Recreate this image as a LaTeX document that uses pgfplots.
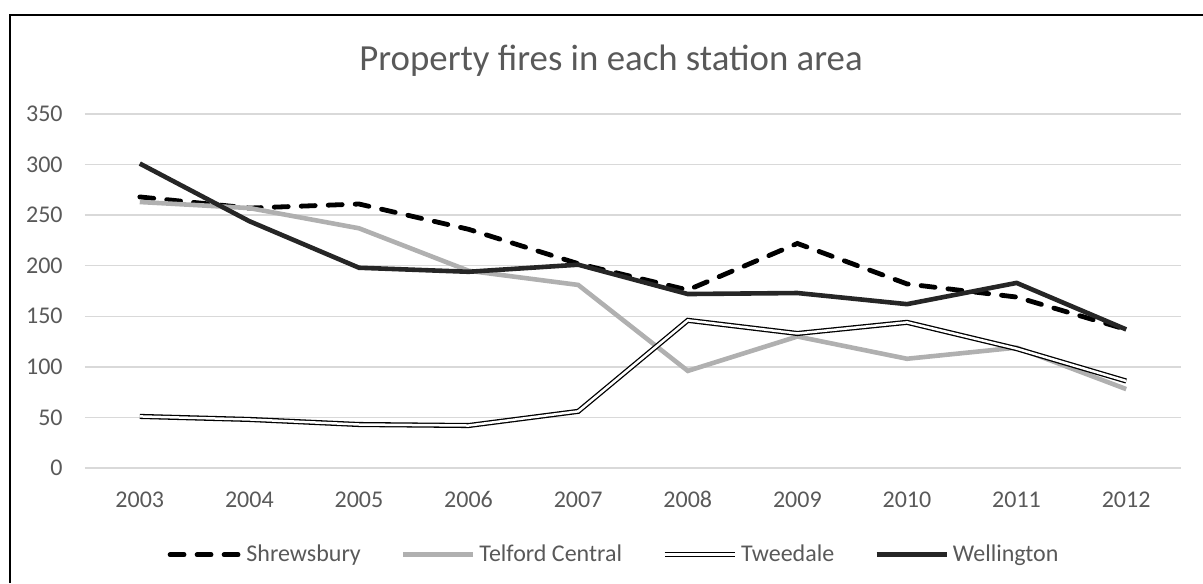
\documentclass[border=0pt]{standalone}
\usepackage{pgfplots}
\pgfplotsset{compat=1.18}
\usepackage{fontspec}
\setmainfont{Carlito}
\definecolor{txt}{HTML}{595959}
\definecolor{gridc}{HTML}{D9D9D9}
\definecolor{dark}{HTML}{262626}
\definecolor{lgray}{HTML}{B0B0B0}
\begin{document}
\begin{tikzpicture}
% 1 px of the reference = 0.5pt
\useasboundingbox (0pt,0pt) rectangle (601.5pt,291.5pt);
\draw[line width=1pt] (5pt,0pt) -- (5pt,284pt) -- (601.5pt,284pt);
\node[anchor=base, text=txt, font=\fontsize{18.4}{22}\selectfont] at (305.5pt,256pt) {Property fires in each station area};
\begin{axis}[
  at={(42.5pt,57.5pt)}, anchor=south west,
  scale only axis, width=548pt, height=177pt,
  xmin=2002.5, xmax=2012.5, ymin=0, ymax=350,
  xtick={2003,...,2012}, ytick={0,50,...,350},
  axis line style={draw=none},
  tick style={draw=none},
  xmajorgrids=false, ymajorgrids=true,
  major grid style={draw=gridc, line width=0.75pt},
  x tick label style={/pgf/number format/1000 sep={}},
  /pgf/number format/assume math mode=true,
  every tick label/.append style={font=\fontsize{12}{14}\selectfont, text=txt, inner sep=0pt},
  yticklabel style={anchor=east, xshift=-11pt},
  xticklabel style={anchor=base, yshift=-19.5pt},
  legend columns=4,
  legend style={at={(0.4836,-0.245)}, anchor=center, draw=none, fill=none,
    font=\fontsize{12}{14}\selectfont, text=txt,
    /tikz/every even column/.append style={column sep=18pt},
    nodes={inner sep=2pt}},
  legend image code/.code={\draw[#1] (0pt,0pt) -- (35pt,0pt);},
]
\addplot[black, line width=2.4pt, line cap=round, dash pattern=on 7pt off 6.5pt]
  coordinates {(2003,268) (2004,257) (2005,261) (2006,236) (2007,202) (2008,176) (2009,222) (2010,182) (2011,169) (2012,137)};
\addlegendentry{Shrewsbury}
\addplot[lgray, line width=2.3pt]
  coordinates {(2003,263) (2004,257) (2005,237) (2006,195) (2007,181) (2008,96) (2009,130) (2010,108) (2011,119) (2012,78)};
\addlegendentry{Telford Central}
\addplot[black, line width=0.65pt, double=white, double distance=1.25pt]
  coordinates {(2003,51) (2004,48) (2005,43) (2006,42) (2007,56) (2008,146) (2009,133) (2010,144) (2011,118) (2012,86)};
\addlegendentry{Tweedale}
\addplot[dark, line width=2.3pt]
  coordinates {(2003,301) (2004,244) (2005,198) (2006,194) (2007,201) (2008,172) (2009,173) (2010,162) (2011,183) (2012,137)};
\addlegendentry{Wellington}
\end{axis}
\end{tikzpicture}
\end{document}
